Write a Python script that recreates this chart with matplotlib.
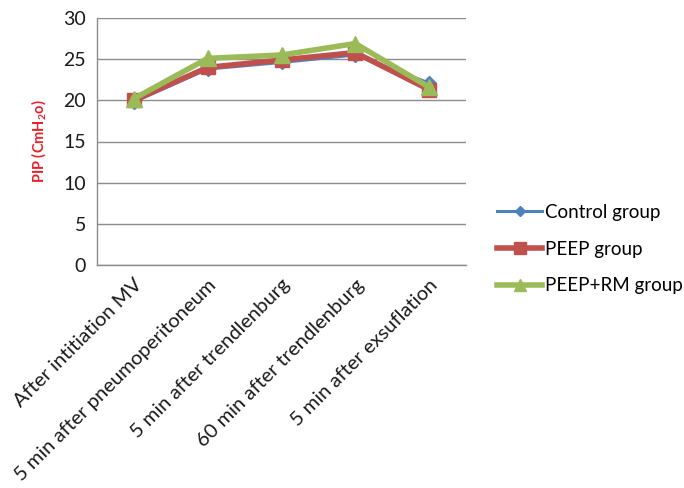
import matplotlib
matplotlib.use("Agg")
import matplotlib.pyplot as plt

plt.rcParams["font.family"] = ["Lato", "DejaVu Sans"]
plt.rcParams["mathtext.fontset"] = "custom"
plt.rcParams["mathtext.rm"] = "Lato:bold"
plt.rcParams["mathtext.bf"] = "Lato:bold"

categories = [
    "After intitiation MV",
    "5 min after pneumoperitoneum",
    "5 min after trendlenburg",
    "60 min after trendlenburg",
    "5 min after exsuflation",
]
control = [19.8, 23.8, 24.6, 25.5, 22.1]
peep = [20.0, 24.0, 24.9, 25.8, 21.3]
peep_rm = [20.2, 25.1, 25.5, 26.9, 21.6]
y_ticks = [0, 5, 10, 15, 20, 25, 30]

fig = plt.figure(figsize=(6.84, 4.88), dpi=100)
ax = fig.add_axes([97 / 684, 1 - 265 / 488, (466 - 97) / 684, (265 - 18) / 488])

x = list(range(len(categories)))
ax.plot(x, control, color="#4F81BD", lw=2.2, marker="D", ms=7,
        label="Control group", zorder=3)
ax.plot(x, peep, color="#C0504D", lw=4, marker="s", ms=10,
        label="PEEP group", zorder=4)
ax.plot(x, peep_rm, color="#9BBB59", lw=4, marker="^", ms=11,
        label="PEEP+RM group", zorder=5)

ax.set_xlim(-0.5, len(categories) - 0.5)
ax.set_ylim(0, 30)
ax.set_yticks(y_ticks)
ax.set_yticklabels([str(v) for v in y_ticks], fontsize=14, color="#1a1a1a")
ax.set_xticks(x)
ax.set_xticklabels(categories, rotation=45, ha="right", rotation_mode="anchor",
                   fontsize=14.5, color="#1a1a1a")
ax.tick_params(axis="both", length=0)
ax.tick_params(axis="y", pad=8)
ax.tick_params(axis="x", pad=8)

ax.grid(axis="y", color="#8c8c8c", lw=1)
ax.set_axisbelow(True)
for side in ("top", "right"):
    ax.spines[side].set_visible(False)
for side in ("left", "bottom"):
    ax.spines[side].set_color("#8c8c8c")
    ax.spines[side].set_linewidth(1)

ax.set_ylabel(r"PIP (CmH$_\mathbf{2}$o)", color="#E8202A", fontsize=10.5,
              fontweight="bold", labelpad=10)

leg = fig.legend(loc="center left", bbox_to_anchor=(497 / 684, 1 - 249 / 488),
                 frameon=False, fontsize=13.5, handlelength=2.4, borderpad=0,
                 borderaxespad=0, labelspacing=1.05, handletextpad=0.15,
                 markerscale=0.8)

fig.savefig("out.png", dpi=100)
